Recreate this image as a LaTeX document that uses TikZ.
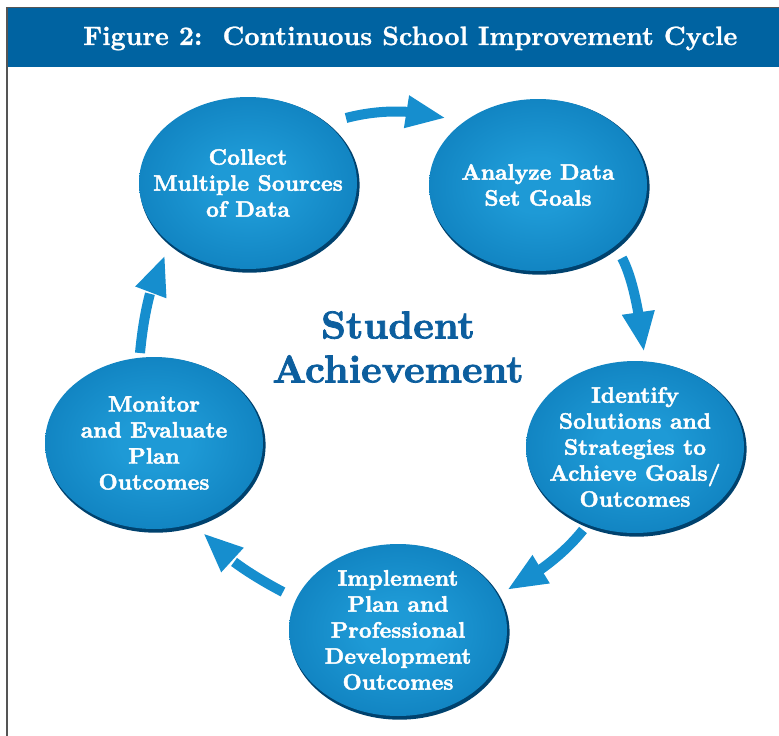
\documentclass[tikz,border=0pt]{standalone}
\usepackage{fontspec}
\usetikzlibrary{shapes.geometric,arrows.meta,bending,calc}

% a heavier cut of the bold serif for the labels
\newfontfamily\heavyserif{lmroman10-bold.otf}[FakeBold=2]
\newfontfamily\titleserif{lmroman10-bold.otf}[FakeBold=1]

\definecolor{barblue}{RGB}{0,99,161}
\definecolor{framegray}{RGB}{85,85,85}
\definecolor{goalblue}{RGB}{12,94,158}
\definecolor{ellin}{RGB}{30,154,214}
\definecolor{ellout}{RGB}{0,102,166}
\definecolor{rimdark}{RGB}{0,66,110}
\definecolor{flowdark}{RGB}{10,112,178}
\definecolor{flowblue}{RGB}{22,142,206}

\pgfdeclareradialshading{stepglow}{\pgfpoint{0bp}{0bp}}{%
  color(0bp)=(ellin); color(8bp)=(ellin); color(50bp)=(ellout)}

\tikzset{
  ellrim/.style={ellipse, draw=none, fill=rimdark, minimum width=220pt,
    minimum height=175pt, inner sep=0pt},
  ellface/.style={ellipse, draw=none, shading=stepglow, minimum width=218pt,
    minimum height=172pt, inner sep=0pt},
  steptext/.style={text=white, align=center, inner sep=0pt,
    font=\heavyserif\fontsize{22.3}{26}\selectfont},
  goal/.style={text=goalblue, align=center, inner sep=0pt,
    font=\heavyserif\fontsize{39}{44}\selectfont},
  flow/.style={draw=flowblue, line width=10pt,
    -{Triangle[width=30pt,length=40pt]}},
}

\begin{document}
\begin{tikzpicture}[x=1pt,y=-1pt]
  \useasboundingbox (0,0) rectangle (779,736);

  % frame and title bar
  \fill[barblue] (7.6,8.3) rectangle (779,67);
  \draw[framegray, line width=1.6pt] (6.8,736) -- (6.8,7.5) -- (779,7.5);
  \node[anchor=base west, inner sep=0pt, text=white] (title) at (83,45)
    {\resizebox{654pt}{18.5pt}{\titleserif Figure 2:\ \ Continuous School Improvement Cycle}};

  % the five steps of the cycle
  \foreach \n/\x/\y in {c1/248/183, c2/538/185, c3/635/447, c4/398/630, c5/154/443} {
    \node[ellrim] at (\x+1.6,\y+2.2) {};
    \node[ellface] (\n) at (\x,\y) {};
  }
  \node[steptext] (t1) at (c1) {Collect\\Multiple Sources\\of Data};
  \node[steptext] (t2) at (c2) {Analyze Data\\Set Goals};
  \node[steptext] (t3) at (c3) {Identify\\Solutions and\\Strategies to\\Achieve Goals/\\Outcomes};
  \node[steptext] (t4) at (c4) {Implement\\Plan and\\Professional\\Development\\Outcomes};
  \node[steptext] (t5) at (c5) {Monitor\\and Evaluate\\Plan\\Outcomes};

  % centre label
  \node[goal] (goal) at (398,347) {Student\\Achievement};

  % arrow ends and bend points
  \coordinate (a1t) at (346,118); \coordinate (a1m) at (396,105); \coordinate (a1h) at (446,118);
  \coordinate (a2t) at (622,258); \coordinate (a2m) at (636,284); \coordinate (a2h) at (644,352);
  \coordinate (a3t) at (583,530); \coordinate (a3m) at (556,564); \coordinate (a3h) at (507,590);
  \coordinate (a4t) at (283,592); \coordinate (a4m) at (226,562); \coordinate (a4h) at (203,533);
  \coordinate (a5t) at (140,353); \coordinate (a5m) at (146,289); \coordinate (a5h) at (165,255);

  \foreach \i in {1,...,5} {
    \draw[flow] (a\i t) .. controls ($(a\i t)!2/3!(a\i m)$) and ($(a\i h)!2/3!(a\i m)$) .. (a\i h);
  }
\end{tikzpicture}
\end{document}
